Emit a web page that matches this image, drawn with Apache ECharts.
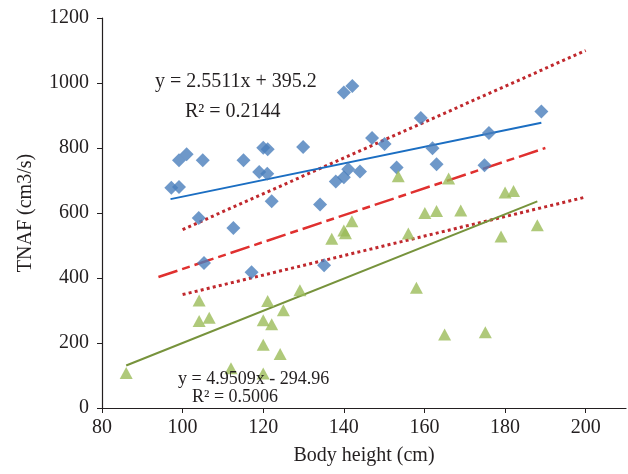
<!DOCTYPE html>
<html>
<head>
<meta charset="utf-8">
<script src="https://cdn.jsdelivr.net/npm/echarts@6/dist/echarts.min.js"></script>
<style>
html,body{margin:0;padding:0;background:#fff;}
#chart{width:628px;height:474px;}
</style>
</head>
<body>
<div id="chart"></div>
<script>
// Blue diamonds: [height, TNAF]
var blueHeights = [97.2, 99.1, 99.1, 101, 105, 115.1, 119, 120, 121.1, 121, 129.9, 122.1, 134.1, 140, 142.1, 159.1, 189, 147, 150.1, 176, 162, 163, 153.1, 174.9, 141.1, 144, 140, 138, 104, 112.6, 105.3, 117.1, 135.1];
var blueValues  = [678, 680, 762, 781, 762, 762, 726, 801, 796, 721, 803, 636, 626, 971, 991, 892, 912, 831, 812, 846, 799, 750, 740, 747, 735, 728, 710, 697, 585, 554, 446, 418, 439];
// Green triangles
var greenHeights = [86, 104.1, 104.1, 106.6, 112, 120, 121.1, 122.1, 120, 124.2, 120, 125, 129.1, 137, 140, 140.4, 142, 156, 160.1, 163, 169, 179, 188, 158, 165, 175.1, 153.5, 166, 180, 182.1];
var greenValues  = [108, 331, 268, 278, 122, 270, 329, 258, 195, 166, 106, 301, 362, 521, 546, 538, 575, 537, 600, 606, 608, 528, 562, 370, 226, 233, 713, 706, 663, 668];
// Trend / reference lines (end points)
var blueTrend   = [[97, 642.7], [189, 877.4]];
var greenTrend  = [[86, 130.8], [188, 635.8]];
var redDashed   = [[94, 403], [190, 800]];
var upperDotted = [[100, 549], [200, 1100]];
var lowerDotted = [[100, 349], [200, 649]];
// Axis ticks
var xTicks = [80, 100, 120, 140, 160, 180, 200];
var yTicks = [0, 200, 400, 600, 800, 1000, 1200];
// Texts
var eqBlue = 'y = 2.5511x + 395.2';
var r2Blue = 'R\u00B2 = 0.2144';
var eqGreen = 'y = 4.9509x - 294.96';
var r2Green = 'R\u00B2 = 0.5006';
var xName = 'Body height (cm)';
var yName = 'TNAF (cm3/s)';

function zip(a, b) { return a.map(function (v, i) { return [v, b[i]]; }); }

var FONT = '"Liberation Serif", "DejaVu Serif", serif';
var chart = echarts.init(document.getElementById('chart'), null, {renderer: 'canvas'});

function lineSeries(data, color, width, type, z) {
  return {
    type: 'line', data: data, showSymbol: false, symbol: 'none', silent: true,
    lineStyle: {color: color, width: width, type: type}, z: z, animation: false
  };
}
function plain(v) { return String(v); }

chart.setOption({
  animation: false,
  grid: {left: 102, right: 2, top: 18, bottom: 66, containLabel: false},
  xAxis: {
    type: 'value', min: 80, max: 210, interval: 20,
    name: xName, nameLocation: 'middle', nameGap: 38,
    nameTextStyle: {fontFamily: FONT, fontSize: 20, color: '#231f20'},
    axisLine: {show: true, onZero: false, lineStyle: {color: '#231f20', width: 1.2}},
    axisTick: {show: true, length: 5, lineStyle: {color: '#231f20'}, customValues: xTicks},
    axisLabel: {fontFamily: FONT, fontSize: 20, color: '#231f20', margin: 10, customValues: xTicks, formatter: plain},
    splitLine: {show: false}
  },
  yAxis: {
    type: 'value', min: 0, max: 1200, interval: 200,
    name: yName, nameLocation: 'middle', nameGap: 66, nameRotate: 90,
    nameTextStyle: {fontFamily: FONT, fontSize: 20, color: '#231f20'},
    axisLine: {show: true, onZero: false, lineStyle: {color: '#231f20', width: 1.2}},
    axisTick: {show: true, length: 5, lineStyle: {color: '#231f20'}, customValues: yTicks},
    axisLabel: {fontFamily: FONT, fontSize: 20, color: '#231f20', margin: 13, customValues: yTicks, formatter: plain},
    splitLine: {show: false}
  },
  series: [
    lineSeries(upperDotted, '#C0282D', 3, [3, 3.2], 2),
    lineSeries(lowerDotted, '#C0282D', 3, [3, 3.2], 2),
    lineSeries(redDashed, '#E0302F', 2.5, [20, 5, 8, 5], 2),
    lineSeries(blueTrend, '#1B6EC2', 2, 'solid', 2),
    lineSeries(greenTrend, '#77933C', 2, 'solid', 2),
    {
      type: 'scatter', data: zip(blueHeights, blueValues), symbol: 'diamond', symbolSize: 14,
      itemStyle: {color: '#4A7EBB'}, z: 3
    },
    {
      type: 'scatter', data: zip(greenHeights, greenValues), symbol: 'triangle', symbolSize: [13, 12],
      itemStyle: {color: '#9BBB59'}, z: 3
    }
  ],
  graphic: [
    {type: 'text', left: 155, top: 72, z: 10,
     style: {text: eqBlue, font: '20px ' + FONT, fill: '#231f20'}},
    {type: 'text', left: 185, top: 102, z: 10,
     style: {text: r2Blue, font: '20px ' + FONT, fill: '#231f20'}},
    {type: 'text', left: 178, top: 370, z: 10,
     style: {text: eqGreen, font: '18px ' + FONT, fill: '#231f20'}},
    {type: 'text', left: 192, top: 388, z: 10,
     style: {text: r2Green, font: '18px ' + FONT, fill: '#231f20'}}
  ]
});
</script>
</body>
</html>
